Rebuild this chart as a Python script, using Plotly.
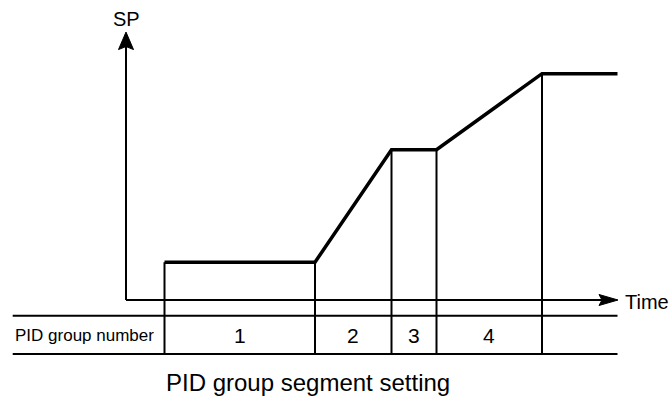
import plotly.graph_objects as go

# ---- data (time in arbitrary units, SP in % of final value) ----
segment_bounds = [0.77, 3.78, 5.31, 6.21, 8.32]
segment_labels = ["1", "2", "3", "4"]
profile_t = [0.77, 3.78, 5.31, 6.21, 8.32, 9.83]
profile_sp = [16.7, 16.7, 66.4, 66.4, 100, 100]
time_axis_end = 9.84
sp_axis_end = 118.4
header_label = "PID group number"
caption = "PID group segment setting"

# ---- page geometry (pixels) ----
W, H = 672, 398
OX, OY = 126, 300          # axes origin on the page
PX_PER_T = 50.0
PX_PER_SP = 2.263

def dx(px):
    return (px - OX) / PX_PER_T

def dy(py):
    return (OY - py) / PX_PER_SP

FONT = "Liberation Sans, Arial, Helvetica, sans-serif"
BLACK = "#000000"

table_top, table_bot = dy(315.7), dy(354)
table_left = dx(12.7)

fig = go.Figure()

# segment boundary lines: from the SP profile down through the table
def sp_at(t):
    for i in range(len(profile_t) - 1):
        if profile_t[i] <= t <= profile_t[i + 1]:
            t0, t1 = profile_t[i], profile_t[i + 1]
            s0, s1 = profile_sp[i], profile_sp[i + 1]
            return s0 + (s1 - s0) * (t - t0) / (t1 - t0) if t1 != t0 else s0
    return profile_sp[-1]

vx, vy = [], []
for t in segment_bounds:
    vx += [t, t, None]
    vy += [sp_at(t), table_bot, None]
fig.add_trace(go.Scatter(x=vx, y=vy, mode="lines",
                         line=dict(color=BLACK, width=2), hoverinfo="skip"))

# table rules
fig.add_trace(go.Scatter(x=[table_left, profile_t[-1], None, table_left, profile_t[-1]],
                         y=[table_top, table_top, None, table_bot, table_bot],
                         mode="lines", line=dict(color=BLACK, width=2), hoverinfo="skip"))

# axes
fig.add_trace(go.Scatter(x=[0, 0, None, 0, time_axis_end - dx(OX + 14)],
                         y=[sp_axis_end - 14 / PX_PER_SP, 0, None, 0, 0],
                         mode="lines", line=dict(color=BLACK, width=2), hoverinfo="skip"))

# arrow heads (notched triangles)
hw, hl, hn = 7.5, 17.5, 3.0     # y head: half width, length, notch (px)
fig.add_trace(go.Scatter(
    x=[0, -hw / PX_PER_T, 0, hw / PX_PER_T, 0],
    y=[sp_axis_end, sp_axis_end - hl / PX_PER_SP, sp_axis_end - (hl - hn) / PX_PER_SP,
       sp_axis_end - hl / PX_PER_SP, sp_axis_end],
    mode="lines", fill="toself", fillcolor=BLACK, line=dict(color=BLACK, width=1),
    hoverinfo="skip"))
xw, xl, xn = 5.5, 19.0, 3.0     # x head
fig.add_trace(go.Scatter(
    x=[time_axis_end, time_axis_end - xl / PX_PER_T, time_axis_end - (xl - xn) / PX_PER_T,
       time_axis_end - xl / PX_PER_T, time_axis_end],
    y=[0, xw / PX_PER_SP, 0, -xw / PX_PER_SP, 0],
    mode="lines", fill="toself", fillcolor=BLACK, line=dict(color=BLACK, width=1),
    hoverinfo="skip"))

# SP profile
fig.add_trace(go.Scatter(x=profile_t, y=profile_sp, mode="lines",
                         line=dict(color=BLACK, width=3.5), hoverinfo="skip"))

annotations = [
    dict(x=0, y=dy(19), text="SP", xanchor="center", yanchor="middle",
         font=dict(family=FONT, size=20, color=BLACK)),
    dict(x=dx(623), y=dy(302), text="Time", xanchor="left", yanchor="middle",
         font=dict(family=FONT, size=20, color=BLACK)),
    dict(x=table_left, y=dy(335), text=header_label, xanchor="left", yanchor="middle",
         font=dict(family=FONT, size=17, color=BLACK)),
    dict(x=dx(308), y=dy(382), text=caption, xanchor="center", yanchor="middle",
         font=dict(family=FONT, size=24, color=BLACK)),
]
for i, lab in enumerate(segment_labels):
    annotations.append(dict(x=(segment_bounds[i] + segment_bounds[i + 1]) / 2, y=dy(335.5),
                            text=lab, xanchor="center", yanchor="middle",
                            font=dict(family=FONT, size=21, color=BLACK)))
for a in annotations:
    a.update(showarrow=False, xref="x", yref="y")

fig.update_layout(
    width=W, height=H, margin=dict(l=0, r=0, t=0, b=0),
    paper_bgcolor="white", plot_bgcolor="white", showlegend=False,
    xaxis=dict(range=[dx(0), dx(W)], visible=False, fixedrange=True),
    yaxis=dict(range=[dy(H), dy(0)], visible=False, fixedrange=True),
    annotations=annotations,
)
# drop the browser's default 8px body margin so the figure sits at the page corner
fig.write_html("out.html", config={"displayModeBar": False},
               post_script="document.body.style.margin='0';")
